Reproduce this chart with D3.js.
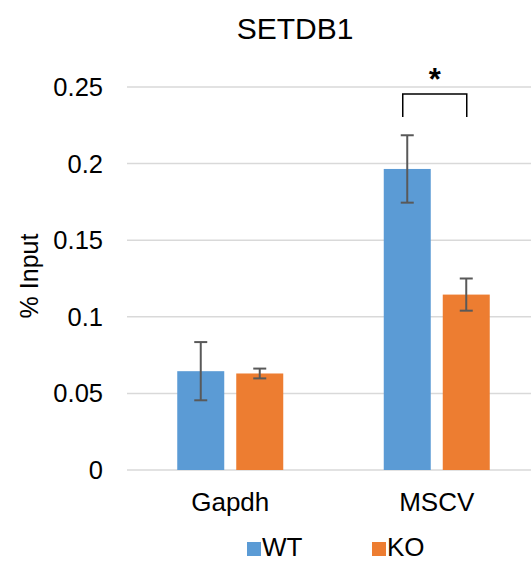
<!DOCTYPE html>
<html>
<head>
<meta charset="utf-8">
<script src="https://d3js.org/d3.v7.min.js"></script>
<style>
  body { margin: 0; background: #fff; }
  text { font-family: "Liberation Sans", Arial, sans-serif; fill: #000; }
</style>
</head>
<body>
<div id="chart"></div>
<script>

// data
var categories = ["Gapdh", "MSCV"];
var series = ["WT", "KO"];
var wtValues = [0.0645, 0.1965];
var koValues = [0.063, 0.1145];
var wtErrors = [0.019, 0.022];
var koErrors = [0.0032, 0.0105];
var yTicks = [0, 0.05, 0.1, 0.15, 0.2, 0.25];
var yTickLabels = ["0", "0.05", "0.1", "0.15", "0.2", "0.25"];

var colors = {WT: "#5B9BD5", KO: "#ED7D31"};

var width = 531;
var height = 564;

var svg = d3.select("#chart")
    .append("svg")
    .attr("width", width)
    .attr("height", height);

var x = d3.scaleBand()
    .domain(categories)
    .range([127, 540]);

var xInner = d3.scaleBand()
    .domain(series)
    .range([0, 106])
    .paddingInner(0.2034);

var y = d3.scaleLinear()
    .domain([0, 0.25])
    .range([470, 87]);

// gridlines
svg.append("g")
    .selectAll("line")
    .data(yTicks)
    .enter()
    .append("line")
    .attr("x1", 127)
    .attr("x2", width)
    .attr("y1", function(d) { return y(d); })
    .attr("y2", function(d) { return y(d); })
    .attr("stroke", "#d9d9d9")
    .attr("stroke-width", 1.5);

// y tick labels
svg.append("g")
    .selectAll("text")
    .data(yTicks)
    .enter()
    .append("text")
    .attr("x", 103)
    .attr("y", function(d) { return y(d) + 9; })
    .attr("text-anchor", "end")
    .attr("font-size", "25.5px")
    .text(function(d, i) { return yTickLabels[i]; });

// rows: one per category and series
var rows = [];
categories.forEach(function(c, i) {
  rows.push({cat: c, s: "WT", v: wtValues[i], e: wtErrors[i]});
  rows.push({cat: c, s: "KO", v: koValues[i], e: koErrors[i]});
});

function barX(d) {
  return x(d.cat) + x.bandwidth() / 2 - 53 + xInner(d.s);
}

svg.append("g")
    .selectAll("rect")
    .data(rows)
    .enter()
    .append("rect")
    .attr("x", barX)
    .attr("width", xInner.bandwidth())
    .attr("y", function(d) { return y(d.v); })
    .attr("height", function(d) { return y(0) - y(d.v); })
    .attr("fill", function(d) { return colors[d.s]; });

// error bars
var err = svg.append("g")
    .attr("stroke", "#595959")
    .attr("stroke-width", 2)
    .selectAll("g")
    .data(rows)
    .enter()
    .append("g")
    .attr("transform", function(d) {
      return "translate(" + (barX(d) + xInner.bandwidth() / 2) + ",0)";
    });

err.append("line")
    .attr("y1", function(d) { return y(d.v + d.e); })
    .attr("y2", function(d) { return y(d.v - d.e); });
err.append("line")
    .attr("x1", -6.5).attr("x2", 6.5)
    .attr("y1", function(d) { return y(d.v + d.e); })
    .attr("y2", function(d) { return y(d.v + d.e); });
err.append("line")
    .attr("x1", -6.5).attr("x2", 6.5)
    .attr("y1", function(d) { return y(d.v - d.e); })
    .attr("y2", function(d) { return y(d.v - d.e); });

// significance bracket over MSCV
var wtMid = barX(rows[2]) + xInner.bandwidth() / 2;
var koMid = barX(rows[3]) + xInner.bandwidth() / 2;
svg.append("path")
    .attr("d", "M" + (wtMid - 4.5) + ",117V94H" + (koMid + 0.5) + "V117")
    .attr("fill", "none")
    .attr("stroke", "#000")
    .attr("stroke-width", 1.5);
svg.append("text")
    .attr("x", (wtMid - 4.5 + koMid + 0.5) / 2)
    .attr("y", 90)
    .attr("text-anchor", "middle")
    .attr("font-size", "31px")
    .attr("font-weight", "bold")
    .text("*");

// category labels
svg.append("g")
    .selectAll("text")
    .data(categories)
    .enter()
    .append("text")
    .attr("x", function(d) { return x(d) + x.bandwidth() / 2; })
    .attr("y", 511)
    .attr("text-anchor", "middle")
    .attr("font-size", "26px")
    .text(function(d) { return d; });

// title
svg.append("text")
    .attr("x", 295)
    .attr("y", 39)
    .attr("text-anchor", "middle")
    .attr("font-size", "30px")
    .text("SETDB1");

// y axis title
svg.append("text")
    .attr("transform", "translate(38,276) rotate(-90)")
    .attr("text-anchor", "middle")
    .attr("font-size", "25px")
    .text("% Input");

// legend
var legendX = [247, 372];
var legend = svg.append("g")
    .selectAll("g")
    .data(series)
    .enter()
    .append("g")
    .attr("transform", function(d, i) { return "translate(" + legendX[i] + ",542)"; });
legend.append("rect")
    .attr("width", 14)
    .attr("height", 14)
    .attr("fill", function(d) { return colors[d]; });
legend.append("text")
    .attr("x", 15)
    .attr("y", 14)
    .attr("font-size", "26px")
    .text(function(d) { return d; });

</script>
</body>
</html>
